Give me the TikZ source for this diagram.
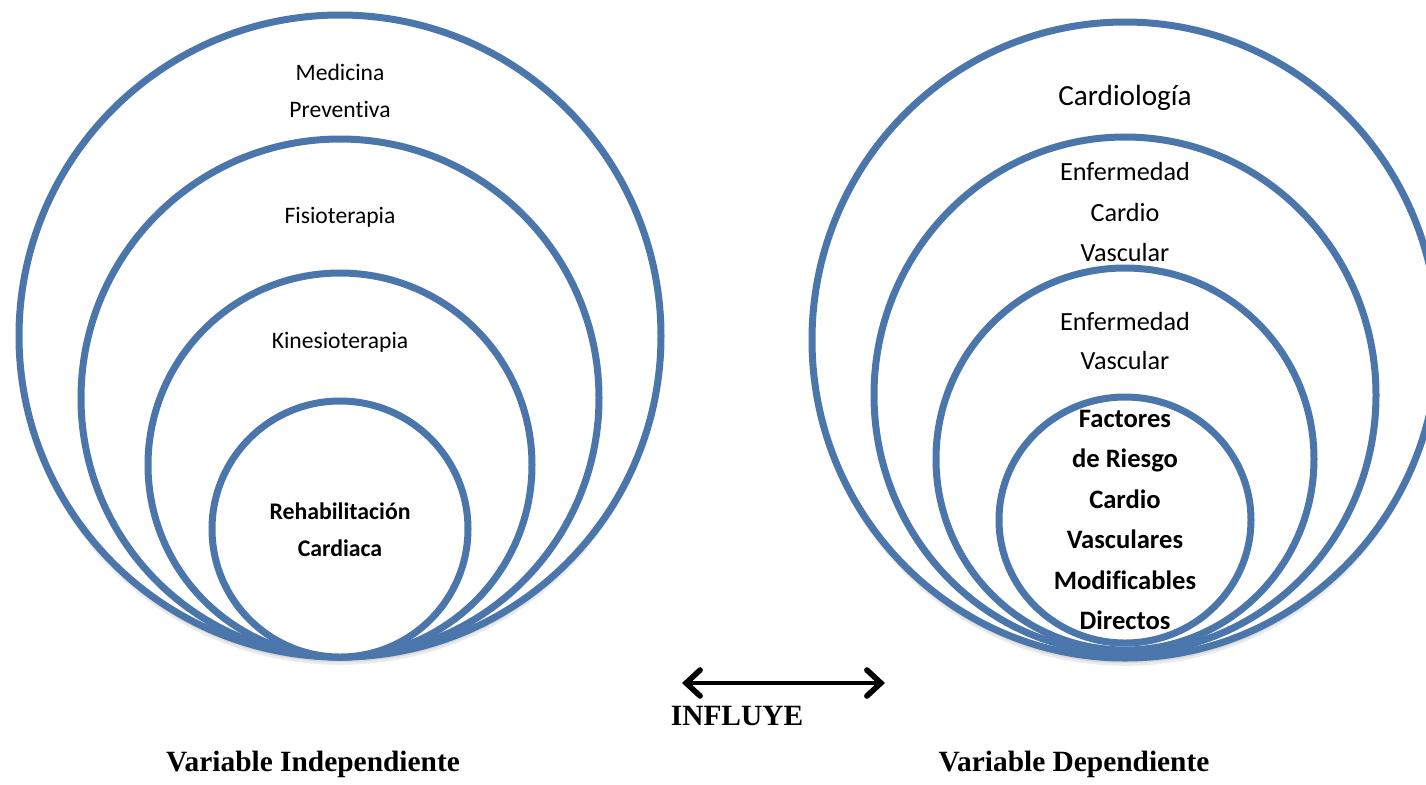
\documentclass[tikz,border=0pt]{standalone}
\usepackage{fontspec}
\setmainfont{Carlito}[Ligatures=NoCommon]
\newfontfamily\timesfont{Liberation Serif}
\usetikzlibrary{arrows.meta}
\definecolor{ringblue}{RGB}{74,118,172}
\tikzset{
	ring/.style={line width=3.5pt, draw=ringblue, fill=white},
	txt/.style={inner sep=0pt, align=center},
	var/.style={inner sep=0pt, font=\timesfont\bfseries\fontsize{14.7}{16}\selectfont}
}
\begin{document}
\begin{tikzpicture}[x=0.5pt, y=-0.5pt]
	\clip (0,0) rectangle (1426,784);
	% Schatten unten
	\foreach \cx/\cy/\rx/\ry in {340/336/321/321, 1125/340/313/318}
		\foreach \s in {1,2,3}
			\fill[black, opacity=0.08, yshift={-\s*1.3pt}] (\cx,\cy) ellipse [x radius=\rx, y radius=\ry];
	% Kreise links
	\foreach \cy/\r in {336/321, 398/259, 465/192, 529/128}
		\filldraw[ring] (340,\cy) circle [radius=\r];
	% Kreise rechts
	\foreach \cy/\rx/\ry in {340/313/318, 395/251/258, 459/189/191, 520/126/123}
		\filldraw[ring] (1125,\cy) ellipse [x radius=\rx, y radius=\ry];
	% Texte links
	\node[txt, font=\fontsize{11.8}{18.5}\selectfont] (medicina) at (340, 90.5) {Medicina\\Preventiva};
	\node[txt, font=\fontsize{11.8}{18.5}\selectfont] (fisio) at (340, 217) {Fisioterapia};
	\node[txt, font=\fontsize{11.8}{18.5}\selectfont] (kinesio) at (340, 342) {Kinesioterapia};
	\node[txt, font=\bfseries\fontsize{11.9}{18.5}\selectfont] (rehab) at (340, 529.5) {Rehabilitación\\Cardiaca};
	% Texte rechts
	\node[txt, font=\fontsize{14.6}{20}\selectfont] (cardio) at (1125, 98) {Cardiología};
	\node[txt, font=\fontsize{13.1}{20.25}\selectfont] (ecv) at (1125, 212) {Enfermedad\\Cardio\\Vascular};
	\node[txt, font=\fontsize{13.1}{19.5}\selectfont] (ev) at (1125, 340.5) {Enfermedad\\Vascular};
	\node[txt, font=\bfseries\fontsize{13.3}{20.2}\selectfont] (factores) at (1125, 520) {Factores\\de Riesgo\\Cardio\\Vasculares\\Modificables\\Directos};
	% Pfeil
	\coordinate (izq) at (682, 683);
	\coordinate (der) at (885, 683);
	\draw[line width=2.4pt, {Straight Barb[length=7pt, width=13pt, line cap=round, line width=2.8pt]}-{Straight Barb[length=7pt, width=13pt, line cap=round, line width=2.8pt]}] (izq) -- (der);
	\node[var] (influye) at (737, 716) {INFLUYE};
	% Variablen unten
	\node[var] (indep) at (313, 764) {Variable Independiente};
	\node[var] (dep) at (1074, 764) {Variable Dependiente};
\end{tikzpicture}
\end{document}
